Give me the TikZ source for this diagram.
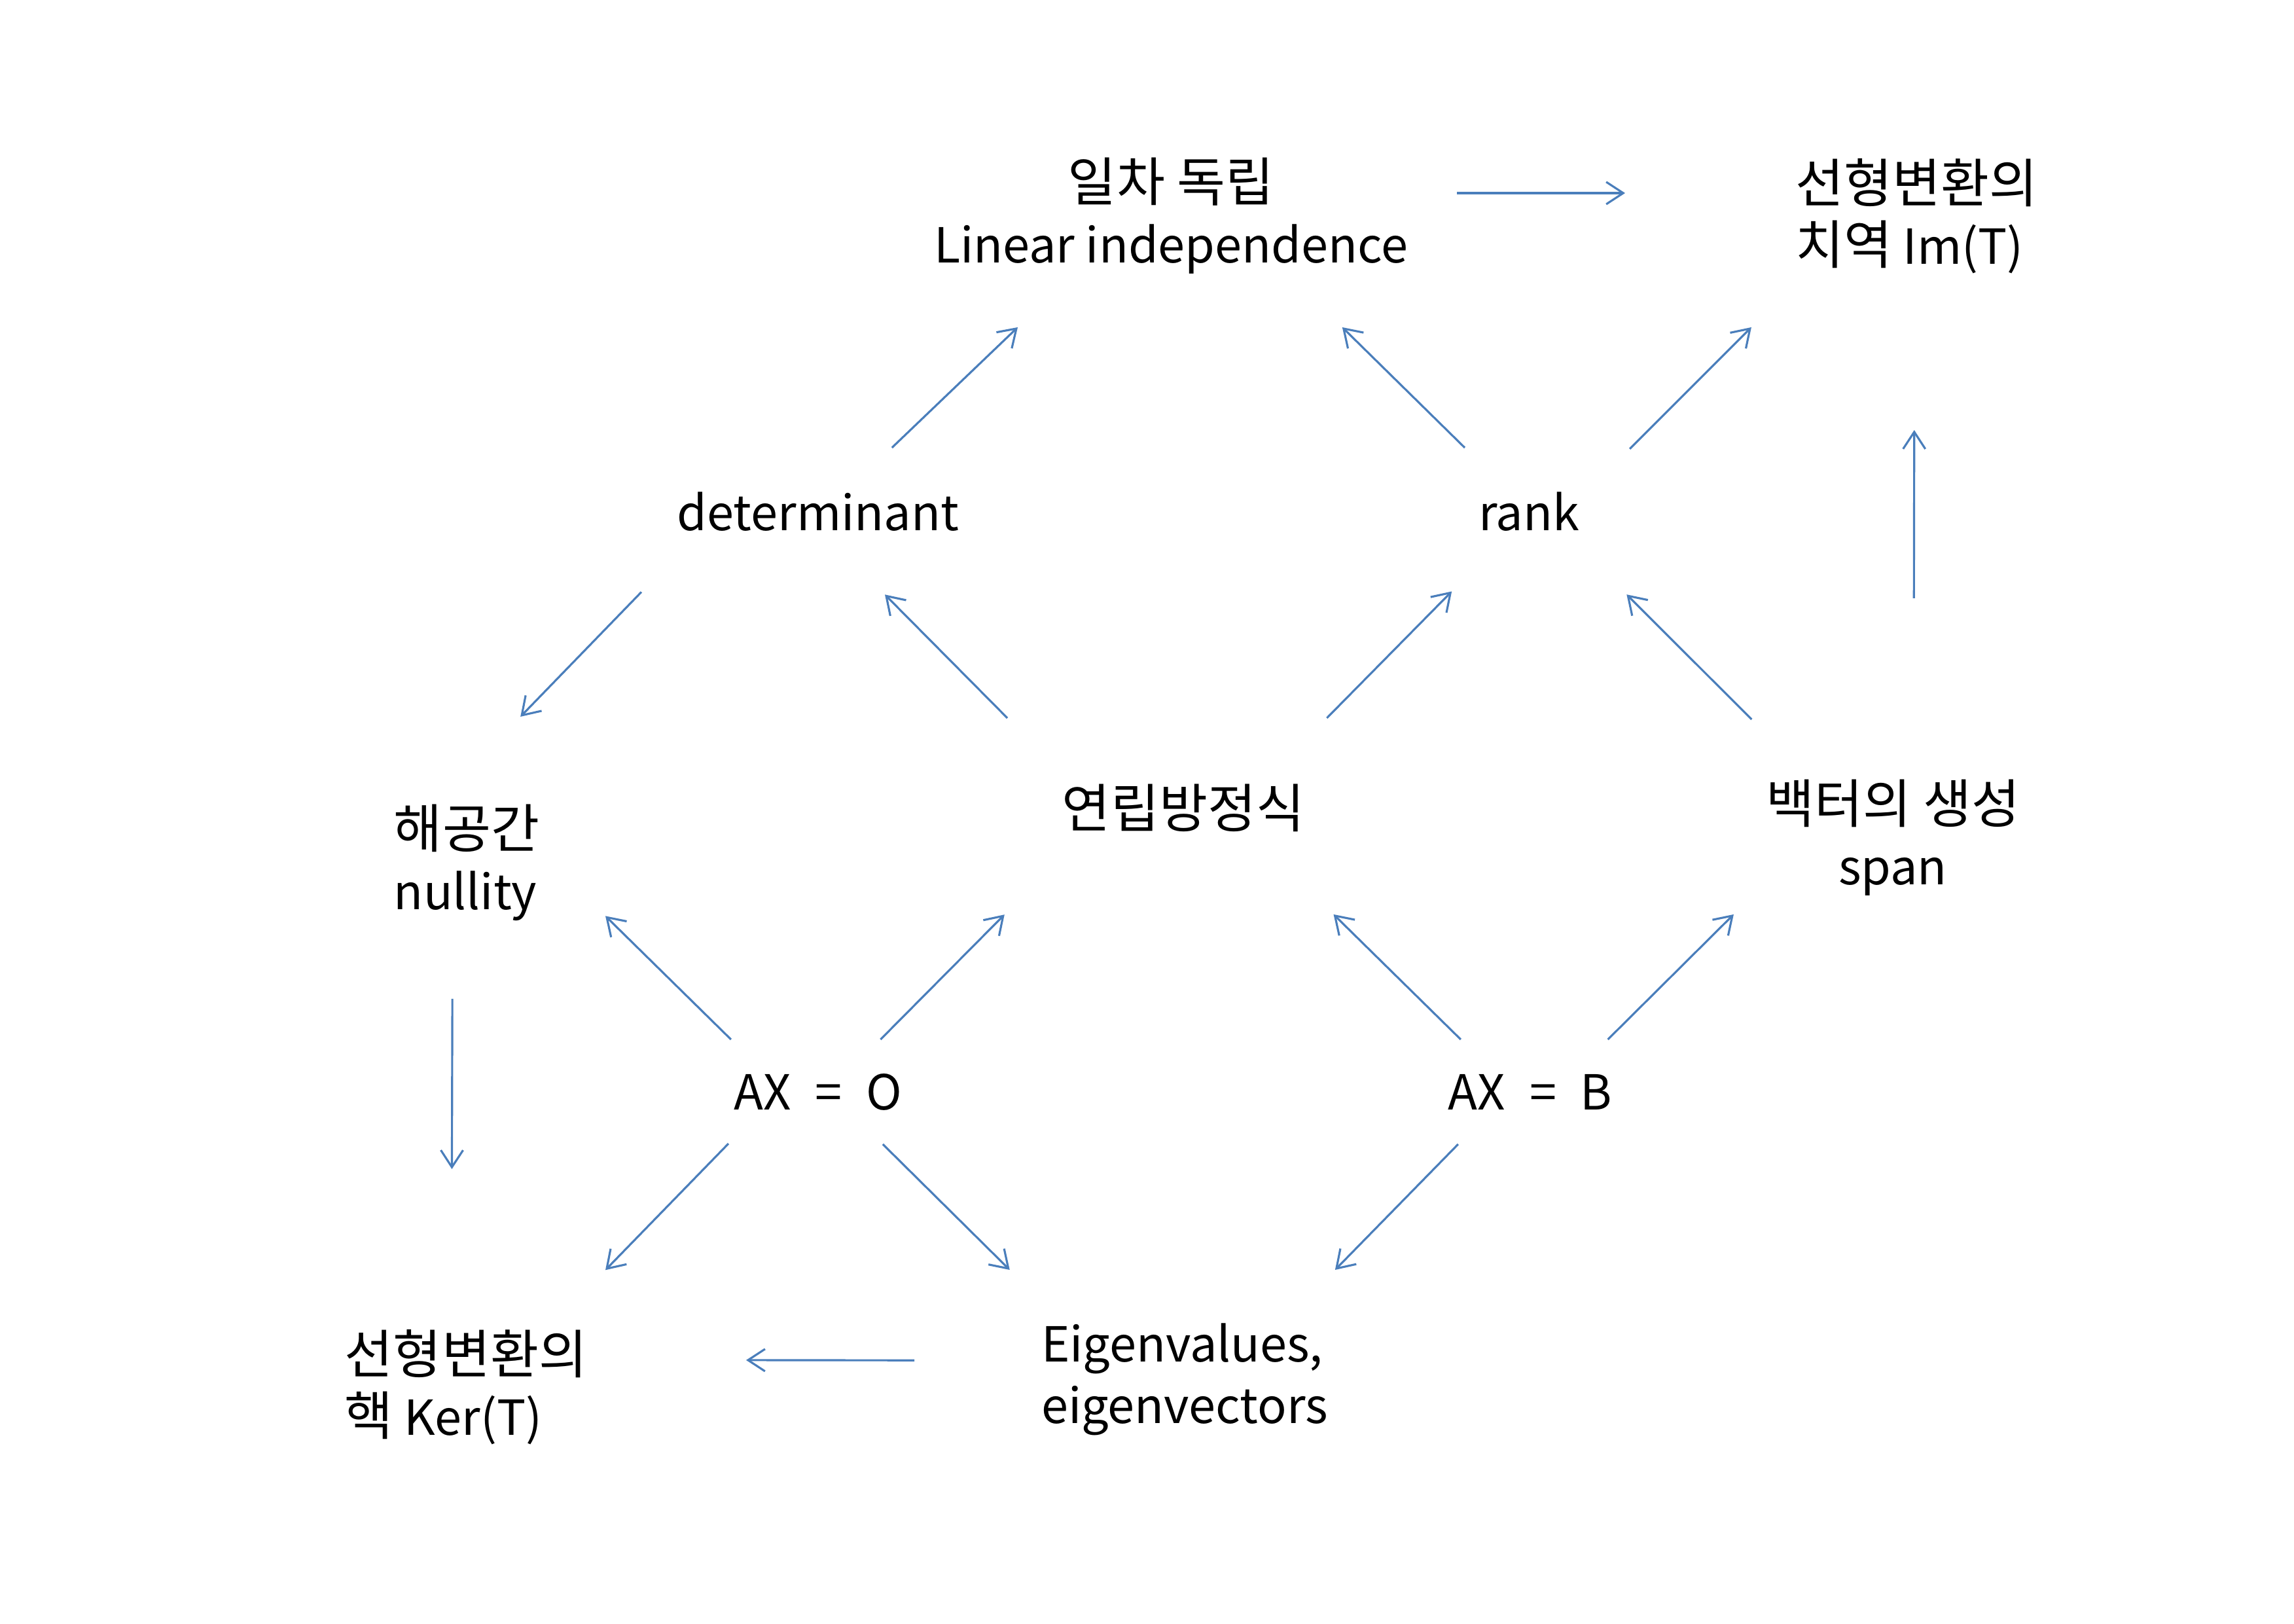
\documentclass[tikz,border=0pt]{standalone}
\usepackage{fontspec}
\setmainfont{Noto Sans CJK KR}
\newfontfamily\kofont[Scale=1.09]{Noto Sans CJK KR}
\usepackage{tikz}
\usetikzlibrary{arrows.meta}
\definecolor{arrowblue}{RGB}{74,126,187}

\begin{document}
\begin{tikzpicture}
      \useasboundingbox(0,0) rectangle (35.05,24.8);
      \tikzset{T/.style = {shape=rectangle, inner sep=0pt, outer sep=0pt, align=center, text=black, font=\fontsize{21}{26.7}\selectfont}}
      \tikzset{E/.style = {draw, arrowblue, line width=0.9pt, -{Straight Barb[length=2.6mm,width=3.4mm]}}}
      \node[T,minimum width=8cm,minimum height=3.4cm](lin) at (17.89,21.5) {{\kofont 일차 독립}\\Linear independence};
      \node[T,align=left,minimum width=8cm,minimum height=3.4cm](im) at (29.28,21.5) {{\kofont 선형변환의}\\{\kofont 치역} Im(T)};
      \node[T,minimum width=4.3cm,minimum height=1.96cm](det) at (12.5,16.98) {determinant};
      \node[T,minimum width=3.08cm,minimum height=1.96cm](rank) at (23.36,16.98) {rank};
      \node[T,align=left,minimum width=4.24cm,minimum height=4.16cm](nul) at (7.13,11.62) {{\kofont 해공간}\\nullity};
      \node[T,minimum width=5.4cm,minimum height=2.74cm](sys) at (18.08,12.46) {\kofont 연립방정식};
      \node[T,minimum width=4.38cm,minimum height=3.62cm](span) at (28.92,12.0) {{\kofont 백터의 생성}\\span};
      \node[T,minimum width=2.74cm,minimum height=1.6cm](axo) at (12.5,8.12) {AX\enspace=\enspace O};
      \node[T,minimum width=2.6cm,minimum height=1.6cm](axb) at (23.38,8.12) {AX\enspace=\enspace B};
      \node[T,align=left,minimum width=4.26cm,minimum height=3.58cm](ker) at (7.12,3.61) {{\kofont 선형변환의}\\{\kofont 핵} Ker(T)};
      \node[T,align=left,minimum width=5.44cm,minimum height=3.34cm](eig) at (18.1,3.73) {Eigenvalues,\\eigenvectors};
      \draw[E,shorten <=0.37cm,shorten >=0.45cm](lin.5) to (im.175);
      \draw[E](det.41) to (lin.-144);
      \draw[E](rank.135) to (lin.-33);
      \draw[E](rank.32) to (im.-146);
      \draw[E,shorten <=1.85cm,shorten >=1.57cm](span.80) to (im.-91);
      \draw[E,shorten <=0.79cm,shorten >=0.21cm](det.-163) to (nul.72);
      \draw[E,shorten >=0.4cm](sys.153) to (det.-53);
      \draw[E,shorten >=0.33cm](sys.32) to (rank.-134);
      \draw[E,shorten >=0.4cm](span.140) to (rank.-39);
      \draw[E,shorten >=1.54cm](nul.-96) to (ker.97);
      \draw[E](axo.149) to (nul.-21);
      \draw[E,shorten >=0.37cm](axo.40) to (sys.-151);
      \draw[E,shorten >=0.37cm](axb.143) to (sys.-34);
      \draw[E,shorten >=0.34cm](axb.34) to (span.-157);
      \draw[E](axo.-150) to (ker.40);
      \draw[E](axo.-39) to (eig.148);
      \draw[E](axb.-144) to (eig.36);
      \draw[E,shorten <=1.41cm,shorten >=2.15cm](eig.174) to (ker.11);
    \end{tikzpicture}
\end{document}
